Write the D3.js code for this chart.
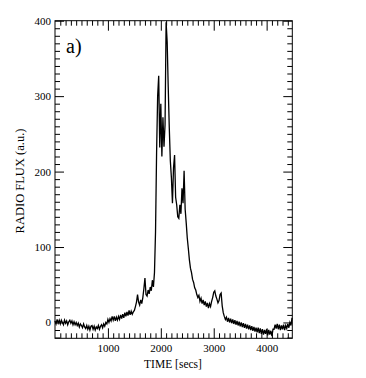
<!DOCTYPE html>
<html>
<head>
<meta charset="utf-8">
<script src="https://cdn.jsdelivr.net/npm/d3@7"></script>
<style>
  body { margin: 0; background: #fff; }
  text { font-family: "Liberation Serif", "Times New Roman", serif; fill: #000; }
</style>
</head>
<body>
<script>
// radio flux, one sample every 20 s from t = 0
var sampleStep = 20;
var flux = [
  2, -2, 4, -1, 3, -2, 3, 0, -3, 3, -1, 2, -3, 1, 3,
  -1, 2, -3, 1, -3, 0, -4, -1, -6, -2, -4, -7, -2, -6, -8,
  -4, -9, -5, -10, -5, -4, -9, -5, -10, -6, -8, -4, -9, -5, -3,
  -7, -2, -5, 0, -2,
  4, 0, 5, 2, 8, 3, 8, 2, 7, 3, 8, 4, 10,
  5, 11, 6, 13, 8, 14, 9, 16, 10, 15, 11, 14,
  16, 21, 27, 37, 27, 23, 30, 25,
  33, 45, 59, 37, 35, 43, 38, 47, 42,
  56, 47, 66,
  120, 225, 300, 327, 232, 290, 220, 272, 233, 262, 398, 372, 312, 258, 214,
  192, 158, 205, 222, 166, 156, 140, 138, 156, 144, 178, 158, 201, 150, 132,
  112, 98, 83, 72, 66, 57, 53, 46, 43, 37, 33, 36, 28, 32, 25,
  30, 23, 28, 21, 26, 19, 25, 21, 28, 33, 40, 42, 35, 31, 26,
  29, 37, 39, 22, 13, 8, 4,
  7, 1, 6, 0, 5, -1, 4, -2, 3, -3, 2, -4, 1, -5, 0,
  -6, -1, -7, -2, -8, -3, -9, -4, -10, -5, -11, -6, -12, -7, -13,
  -7, -14, -8, -15, -9, -16, -10, -15, -9, -17, -10, -16, -11, -18, -9,
  -9, -3, -8, -2, -9, -3, -10, -4, -9, -3, -10, -4, -8, -2, -7,
  0, -4, 6
];
var xTicks = [1000, 2000, 3000, 4000];
var yTicks = [0, 100, 200, 300, 400];

var w = 366, h = 378;
var plotLeft = 55, plotRight = 292.3, plotTop = 20.7, plotBottom = 338.3;

var data = flux.map(function(v, i){
  return { t: i * sampleStep, v: v };
});

var xScale = d3.scaleLinear().domain([0, 4485]).range([plotLeft, plotRight]);
var yScale = d3.scaleLinear().domain([-21, 400]).range([plotBottom, plotTop]);

var xMinor = d3.range(100, 4485, 100).filter(function(d){ return d % 1000 !== 0; });
var yMinor = d3.range(-20, 400, 10).filter(function(d){ return d % 100 !== 0; });

var svg = d3.select('body')
  .append('svg')
  .attr('width', w)
  .attr('height', h);

function tickAxis(axis, pos, size, labels){
  var g = svg.append('g')
    .attr('transform', pos)
    .call(axis.tickSizeInner(-size).tickSizeOuter(0).tickFormat(d3.format('d')));
  g.select('.domain').remove();
  g.selectAll('line').attr('stroke', '#000').attr('stroke-width', 1);
  if (!labels) g.selectAll('text').remove();
  else g.selectAll('text').attr('font-size', '11px').attr('fill', '#000')
        .attr('font-family', '"Liberation Serif", serif');
  return g;
}

// bottom / top
tickAxis(d3.axisBottom(xScale).tickValues(xTicks).tickPadding(6), 'translate(0,' + plotBottom + ')', 10, true);
tickAxis(d3.axisBottom(xScale).tickValues(xMinor), 'translate(0,' + plotBottom + ')', 5, false);
tickAxis(d3.axisTop(xScale).tickValues(xTicks), 'translate(0,' + plotTop + ')', 10, false);
tickAxis(d3.axisTop(xScale).tickValues(xMinor), 'translate(0,' + plotTop + ')', 5, false);

// left / right
tickAxis(d3.axisLeft(yScale).tickValues(yTicks).tickPadding(4), 'translate(' + plotLeft + ',0)', 9, true);
tickAxis(d3.axisLeft(yScale).tickValues(yMinor), 'translate(' + plotLeft + ',0)', 5, false);
tickAxis(d3.axisRight(yScale).tickValues(yTicks), 'translate(' + plotRight + ',0)', 9, false);
tickAxis(d3.axisRight(yScale).tickValues(yMinor), 'translate(' + plotRight + ',0)', 5, false);

svg.append('rect')
  .attr('x', plotLeft)
  .attr('y', plotTop)
  .attr('width', plotRight - plotLeft)
  .attr('height', plotBottom - plotTop)
  .attr('fill', 'none')
  .attr('stroke', '#000')
  .attr('stroke-width', 1);

var line = d3.line()
  .x(function(d){ return xScale(d.t); })
  .y(function(d){ return yScale(d.v); });

svg.append('path')
  .datum(data)
  .attr('d', line)
  .attr('fill', 'none')
  .attr('stroke', '#000')
  .attr('stroke-width', 1.3);

svg.append('text')
  .text('a)')
  .attr('x', 66)
  .attr('y', 53)
  .attr('font-size', '20px');

svg.append('text')
  .text('TIME [secs]')
  .attr('x', 173)
  .attr('y', 368)
  .attr('text-anchor', 'middle')
  .attr('font-size', '11.5px');

svg.append('text')
  .text('RADIO FLUX (a.u.)')
  .attr('transform', 'translate(24,181) rotate(-90)')
  .attr('text-anchor', 'middle')
  .attr('font-size', '12.5px');
</script>
</body>
</html>
